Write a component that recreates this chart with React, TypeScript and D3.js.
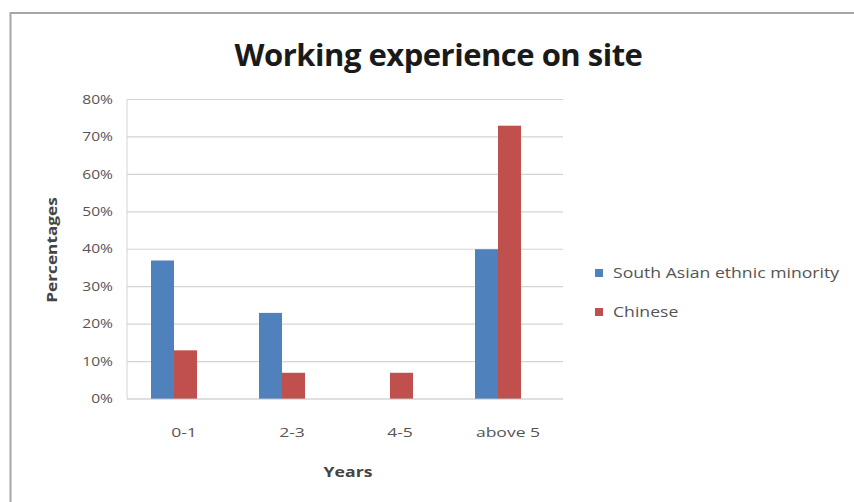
import React from "react";
import * as d3 from "d3";

const categories = ["0-1", "2-3", "4-5", "above 5"];
const seriesNames = ["South Asian ethnic minority", "Chinese"];
const southAsian = [37, 23, 0, 40];
const chinese = [13, 7, 7, 73];
const yTicks = [0, 10, 20, 30, 40, 50, 60, 70, 80];
const colors = ["#4F81BD", "#C0504D"];

export default function App() {
  const W = 854, H = 502;
  const x0 = 127, x1 = 563;
  const y = d3.scaleLinear().domain([0, 80]).range([399, 99.5]);
  const xb = d3.scaleBand().domain(categories).range([120, 552]).paddingInner(0.574).paddingOuter(0.287);
  const xs = d3.scaleBand().domain(seriesNames).range([0, xb.bandwidth()]);
  const series = [southAsian, chinese];
  const font = "Open Sans, sans-serif";
  return (
    <svg width={W} height={H} style={{ position: "absolute", left: 0, top: 0, background: "#fff" }}>
      <rect x={10.5} y={13} width={900} height={600} fill="#fff" stroke="#a6a6a6" strokeWidth={2} />
      <text x={438.5} y={66} textAnchor="middle" fontFamily={font} fontWeight={700} fontSize={31} fill="#1a1a1a" letterSpacing={-0.5}>
        Working experience on site
      </text>
      {yTicks.map((t) => (
        <g key={t}>
          {t > 0 && <line x1={x0} x2={x1} y1={y(t)} y2={y(t)} stroke="#d4d4d4" strokeWidth={1.2} />}
          <text transform={`translate(113,${y(t)}) scale(1.3,1)`} dy="0.35em" textAnchor="end" fontFamily={font} fontSize={12} fill="#555">
            {t}%
          </text>
        </g>
      ))}
      <line x1={x0} x2={x0} y1={y(80)} y2={y(0)} stroke="#d4d4d4" strokeWidth={1} />
      {categories.map((c, i) =>
        series.map((s, j) => (
          <rect
            key={c + j}
            x={(xb(c) as number) + (xs(seriesNames[j]) as number)}
            y={y(s[i])}
            width={xs.bandwidth()}
            height={y(0) - y(s[i])}
            fill={colors[j]}
          />
        ))
      )}
      <line x1={x0} x2={x1} y1={y(0)} y2={y(0)} stroke="#bfbfbf" strokeWidth={1.2} />
      {categories.map((c) => (
        <text key={c} transform={`translate(${(xb(c) as number) + xb.bandwidth() / 2 + 10},432) scale(1.35,1)`} dy="0.35em" textAnchor="middle" fontFamily={font} fontSize={13} fill="#555">
          {c}
        </text>
      ))}
      <text transform="translate(348,472) scale(1.26,1)" dy="0.35em" textAnchor="middle" fontFamily={font} fontWeight={700} fontSize={14} fill="#444">
        Years
      </text>
      <text transform="translate(52,250) rotate(-90) scale(1.23,1)" dy="0.35em" textAnchor="middle" fontFamily={font} fontWeight={700} fontSize={14} fill="#444">
        Percentages
      </text>
      {seriesNames.map((n, j) => (
        <g key={n} transform={`translate(595,${273 + j * 39})`}>
          <rect x={0} y={-4} width={8} height={8} fill={colors[j]} />
          <text transform="translate(18,0) scale(1.26,1)" dy="0.35em" fontFamily={font} fontSize={14} fill="#555">
            {n}
          </text>
        </g>
      ))}
    </svg>
  );
}
